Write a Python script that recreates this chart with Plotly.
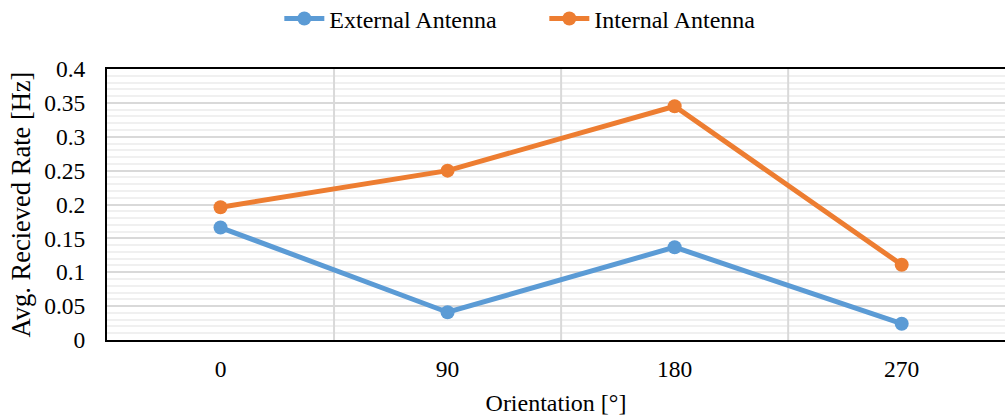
import plotly.graph_objects as go

categories = ["0", "90", "180", "270"]
external = [0.166, 0.041, 0.137, 0.024]
internal = [0.196, 0.250, 0.345, 0.111]
y_ticks = [0, 0.05, 0.1, 0.15, 0.2, 0.25, 0.3, 0.35, 0.4]
y_ticktext = ["0", "0.05", "0.1", "0.15", "0.2", "0.25", "0.3", "0.35", "0.4"]

xpos = list(range(len(categories)))
FONT = "Liberation Serif, Times New Roman, serif"

# category-boundary gridlines (drawn as a trace so they sit above the horizontal grid)
gx, gy = [], []
for i in xpos[:-1]:
    gx += [i + 0.5, i + 0.5, None]
    gy += [y_ticks[0], y_ticks[-1], None]

fig = go.Figure()
fig.add_trace(go.Scatter(x=gx, y=gy, mode="lines", line=dict(color="#d9d9d9", width=2),
                         showlegend=False, hoverinfo="skip"))
fig.add_trace(go.Scatter(x=xpos, y=external, name="External Antenna", mode="lines+markers",
                         line=dict(color="#5b9bd5", width=5), marker=dict(size=14, color="#5b9bd5")))
fig.add_trace(go.Scatter(x=xpos, y=internal, name="Internal Antenna", mode="lines+markers",
                         line=dict(color="#ed7d31", width=5), marker=dict(size=14, color="#ed7d31")))

fig.update_layout(
    width=1005, height=418,
    margin=dict(l=107, r=0, t=69, b=78, autoexpand=False),
    paper_bgcolor="white", plot_bgcolor="white",
    font=dict(family=FONT, size=23.5, color="black"),
    legend=dict(orientation="h", x=0.487, xanchor="center", y=1.185, yanchor="middle",
                font=dict(size=24), itemwidth=40, traceorder="normal", entrywidth=210),
    showlegend=True,
)
fig.update_xaxes(
    range=[-0.5, 3.455], tickmode="array", tickvals=xpos, ticktext=categories,
    showgrid=False, zeroline=False, showline=True, linecolor="black", linewidth=2, mirror=True,
    ticks="", ticklabelstandoff=7, automargin=False,
    title=dict(text="Orientation [°]", font=dict(size=24), standoff=13),
)
fig.update_yaxes(
    range=[0, 0.4], tickmode="array", tickvals=y_ticks, ticktext=y_ticktext,
    showgrid=True, gridcolor="#d9d9d9", gridwidth=2, zeroline=False,
    showline=True, linecolor="black", linewidth=2, mirror=False,
    ticks="", ticklabelstandoff=15, automargin=False,
    minor=dict(dtick=0.01, showgrid=True, gridcolor="#f0f0f0", gridwidth=2),
    title=dict(text="Avg. Recieved Rate [Hz]", font=dict(size=26.5), standoff=6),
)
fig.write_html("out.html", config={"displayModeBar": False},
               post_script="document.body.style.margin='0';")
